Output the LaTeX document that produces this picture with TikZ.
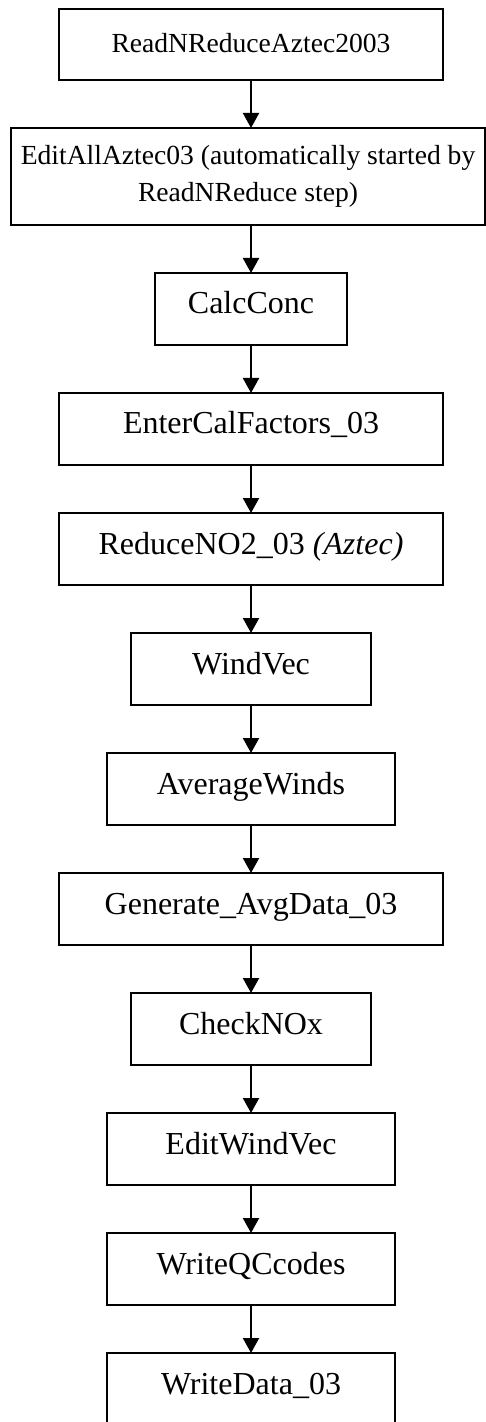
\documentclass[tikz,border=0pt]{standalone}
\usepackage{fontspec}
\setmainfont{Liberation Serif}
\usetikzlibrary{arrows.meta}
\begin{document}
\begin{tikzpicture}[x=0.5pt,y=-0.5pt,
  stepbox/.style={draw=black, line width=1pt, rectangle, inner sep=0pt, outer sep=0pt,
    anchor=north, font=\fontsize{16pt}{18.4pt}\selectfont,
    text height=20.5pt, text depth=15.5pt},
  smallbox/.style={stepbox, font=\fontsize{13.8pt}{18.5pt}\selectfont},
  flow/.style={line width=1pt, -{Triangle[width=8pt,length=7.5pt]}}]
\useasboundingbox (0,0) rectangle (486,1422);
\clip (0,0) rectangle (486,1422);
\node[smallbox, minimum width=192pt, text height=22pt, text depth=13.5pt] (b1) at (251,9) {ReadNReduceAztec2003};
\node[smallbox, minimum width=237pt, minimum height=48.5pt, text height=, text depth=, align=center, anchor=center] (b2) at (248,176.5)
  {EditAllAztec03 (automatically started by\\ReadNReduce step)};
\node[stepbox, minimum width=96pt]  (b3)  at (251,273)  {CalcConc};
\node[stepbox, minimum width=192pt] (b4)  at (251,393)  {EnterCalFactors\_03};
\node[stepbox, minimum width=192pt] (b5)  at (251,513)  {ReduceNO2\_03 \textit{(Aztec)}};
\node[stepbox, minimum width=120pt] (b6)  at (251,633)  {WindVec};
\node[stepbox, minimum width=144pt] (b7)  at (251,753)  {AverageWinds};
\node[stepbox, minimum width=192pt] (b8)  at (251,873)  {Generate\_AvgData\_03};
\node[stepbox, minimum width=120pt] (b9)  at (251,993)  {CheckNOx};
\node[stepbox, minimum width=144pt] (b10) at (251,1113) {EditWindVec};
\node[stepbox, minimum width=144pt] (b11) at (251,1233) {WriteQCcodes};
\node[stepbox, minimum width=144pt] (b12) at (251,1353) {WriteData\_03};
\draw[flow] (b1.south) -- (b1.south |- b2.north);
\draw[flow] (b2.south -| b3.north) -- (b3.north);
\foreach \a/\b in {b3/b4,b4/b5,b5/b6,b6/b7,b7/b8,b8/b9,b9/b10,b10/b11,b11/b12}
  \draw[flow] (\a.south) -- (\b.north);
\end{tikzpicture}
\end{document}
